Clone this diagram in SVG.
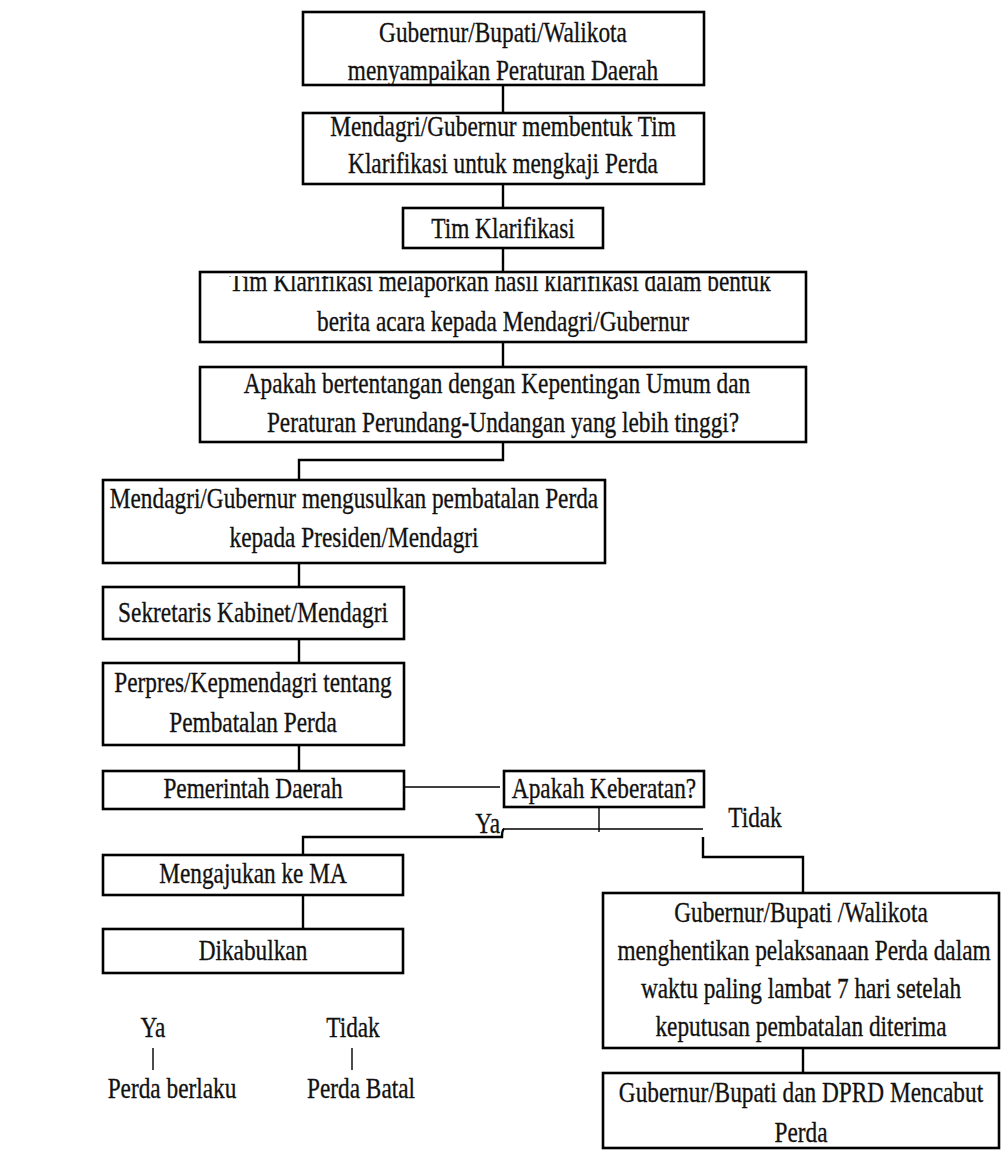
<svg xmlns="http://www.w3.org/2000/svg" width="1001" height="1150" viewBox="0 0 1001 1150">
<style>
.box{fill:#fff;stroke:#000;stroke-width:2.6}
.t{font-family:"Liberation Serif","Times New Roman",serif;font-size:23.3px;fill:#111;stroke:#111;stroke-width:0.25;text-anchor:middle}
.te{text-anchor:end}
.c{fill:none;stroke:#000;stroke-width:2.4}
.thin{fill:none;stroke:#000;stroke-width:1.4}
</style>
<defs>
<clipPath id="k1"><rect x="303" y="12" width="401" height="72"/></clipPath>
<clipPath id="k4"><rect x="200" y="276" width="606" height="66"/></clipPath>
</defs>
<rect width="1001" height="1150" fill="#fff"/>
<g id="connectors">
<path class="c" d="M503 85V113M503 184V208M503 248V272M503 342V367"/>
<path class="c" d="M503 442V460H299V480"/>
<path class="c" d="M299 563V587M299 639V663M299 745V771"/>
<path class="thin" d="M404 787H500"/>
<path class="thin" d="M599 807V832"/>
<path class="thin" d="M703 829H503"/>
<path class="c" d="M504 829Q502 830 502 837H303V855"/>
<path class="c" d="M303 895V929"/>
<path class="c" d="M703 837V857H803V893"/>
<path class="c" d="M803 1048V1073"/>
<path class="thin" d="M153 1048V1070M352 1048V1070"/>
</g>
<g id="n1">
<rect class="box" x="303" y="12" width="401" height="73"/>
<g clip-path="url(#k1)">
<text class="t" transform="matrix(1 0 0 1.3 503 42)">Gubernur/Bupati/Walikota</text>
<text class="t" transform="matrix(1 0 0 1.3 503 80)">menyampaikan Peraturan Daerah</text>
</g>
</g>
<g id="n2">
<rect class="box" x="303" y="113" width="401" height="71"/>
<text class="t" transform="matrix(1 0 0 1.3 503 136)">Mendagri/Gubernur membentuk Tim</text>
<text class="t" transform="matrix(1 0 0 1.3 503 173)">Klarifikasi untuk mengkaji Perda</text>
</g>
<g id="n3">
<rect class="box" x="403" y="208" width="200" height="40"/>
<text class="t" transform="matrix(1 0 0 1.3 503 238)">Tim Klarifikasi</text>
</g>
<g id="n4">
<rect class="box" x="200" y="272" width="606" height="70"/>
<g clip-path="url(#k4)">
<text class="t" transform="matrix(1 0 0 1.3 500 291)">Tim Klarifikasi melaporkan hasil klarifikasi dalam bentuk</text>
<text class="t" transform="matrix(1 0 0 1.3 503 331)">berita acara kepada Mendagri/Gubernur</text>
</g>
</g>
<g id="n5">
<rect class="box" x="200" y="367" width="606" height="75"/>
<text class="t" transform="matrix(1 0 0 1.3 497 393)">Apakah bertentangan dengan Kepentingan Umum dan</text>
<text class="t" transform="matrix(1 0 0 1.3 503 432)">Peraturan Perundang-Undangan yang lebih tinggi?</text>
</g>
<g id="n6">
<rect class="box" x="103" y="480" width="502" height="83"/>
<text class="t" transform="matrix(1 0 0 1.3 354 508)">Mendagri/Gubernur mengusulkan pembatalan Perda</text>
<text class="t" transform="matrix(1 0 0 1.3 354 547)">kepada Presiden/Mendagri</text>
</g>
<g id="n7">
<rect class="box" x="103" y="587" width="301" height="52"/>
<text class="t" transform="matrix(1 0 0 1.3 253 622)">Sekretaris Kabinet/Mendagri</text>
</g>
<g id="n8">
<rect class="box" x="103" y="663" width="301" height="82"/>
<text class="t" transform="matrix(1 0 0 1.3 253 692)">Perpres/Kepmendagri tentang</text>
<text class="t" transform="matrix(1 0 0 1.3 253 732)">Pembatalan Perda</text>
</g>
<g id="n9">
<rect class="box" x="103" y="771" width="301" height="38"/>
<text class="t" transform="matrix(1 0 0 1.3 253 798)">Pemerintah Daerah</text>
</g>
<g id="n10">
<rect class="box" x="504" y="771" width="200" height="36"/>
<text class="t" transform="matrix(1 0 0 1.3 604 798)">Apakah Keberatan?</text>
</g>
<g id="lbl-ya">
<text class="t te" transform="matrix(1 0 0 1.3 500 833)">Ya</text>
</g>
<g id="lbl-tidak">
<text class="t" transform="matrix(1 0 0 1.3 755 827)">Tidak</text>
</g>
<g id="n11">
<rect class="box" x="103" y="855" width="300" height="40"/>
<text class="t" transform="matrix(1 0 0 1.3 253 883)">Mengajukan ke MA</text>
</g>
<g id="n12">
<rect class="box" x="103" y="929" width="300" height="44"/>
<text class="t" transform="matrix(1 0 0 1.3 253 960)">Dikabulkan</text>
</g>
<g id="n13">
<rect class="box" x="603" y="893" width="396" height="155"/>
<text class="t" transform="matrix(1 0 0 1.3 801 922)">Gubernur/Bupati /Walikota</text>
<text class="t" transform="matrix(1 0 0 1.3 804 960)">menghentikan pelaksanaan Perda dalam</text>
<text class="t" transform="matrix(1 0 0 1.3 801 998)">waktu paling lambat 7 hari setelah</text>
<text class="t" transform="matrix(1 0 0 1.3 801 1036)">keputusan pembatalan diterima</text>
</g>
<g id="n14">
<rect class="box" x="603" y="1073" width="396" height="75"/>
<text class="t" transform="matrix(1 0 0 1.3 801 1102)">Gubernur/Bupati dan DPRD Mencabut</text>
<text class="t" transform="matrix(1 0 0 1.3 801 1142)">Perda</text>
</g>
<g id="outcomes">
<text class="t" transform="matrix(1 0 0 1.3 153 1037)">Ya</text>
<text class="t" transform="matrix(1 0 0 1.3 172 1098)">Perda berlaku</text>
<text class="t" transform="matrix(1 0 0 1.3 353 1037)">Tidak</text>
<text class="t" transform="matrix(1 0 0 1.3 361 1098)">Perda Batal</text>
</g>
</svg>
